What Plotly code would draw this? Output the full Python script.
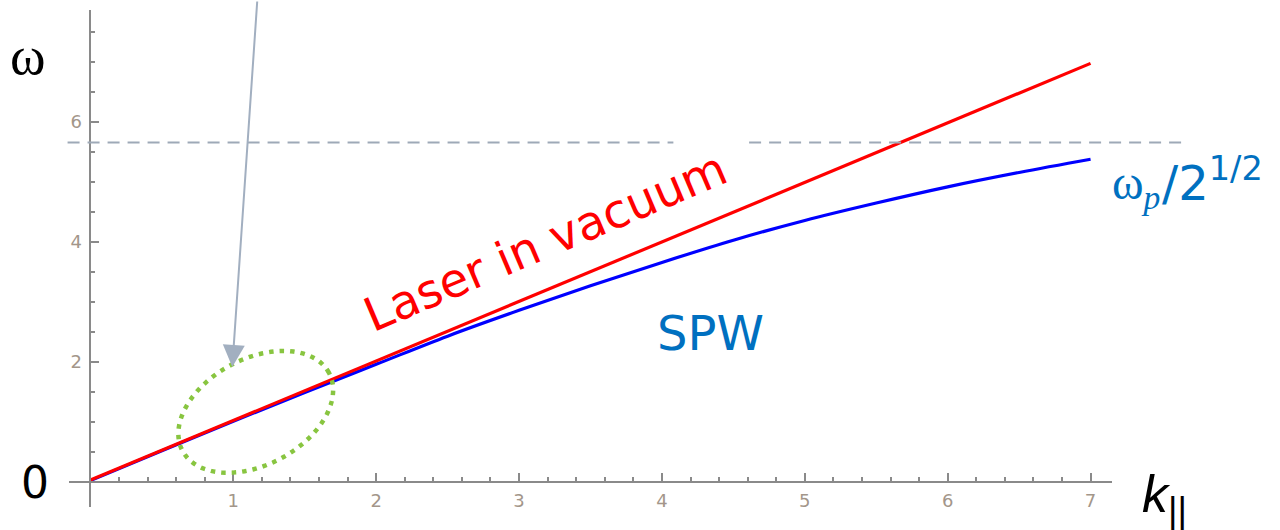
import numpy as np
import plotly.graph_objects as go

# ---- data -------------------------------------------------------------
laser_k = [0.0, 7.0]
laser_w = [0.03, 6.98]

spw_k = [0.0, 0.5, 1.0, 1.5, 2.0, 2.5, 3.0, 3.5, 4.0, 4.5, 5.0, 5.5, 6.0, 6.5, 7.0]
spw_w = [0.02, 0.52, 1.01, 1.49, 1.96, 2.43, 2.86, 3.27, 3.66, 4.03, 4.36, 4.65, 4.92, 5.16, 5.38]

surface_limit = 5.66          # omega_p / sqrt(2)

x_tick_vals = [1, 2, 3, 4, 5, 6, 7]
x_tick_text = ["1", "2", "3", "4", "5", "6", "7"]
y_tick_vals = [2, 4, 6]
y_tick_text = ["2", "4", "6"]

# ---- layout geometry --------------------------------------------------
W, H = 1280, 530
M_L, M_R, M_T, M_B = 69, 168, 10, 23
X_RANGE = [-0.15, 7.15]
Y_RANGE = [-0.42, 7.87]
PW, PH = W - M_L - M_R, H - M_T - M_B
SX = PW / (X_RANGE[1] - X_RANGE[0])   # px per k unit
SY = PH / (Y_RANGE[1] - Y_RANGE[0])   # px per omega unit


def px_x(px):
    return (px - M_L) / PW


def px_y(py):
    return (H - M_B - py) / PH


def dx_paper(v):
    return (v - X_RANGE[0]) / (X_RANGE[1] - X_RANGE[0])


def dy_paper(v):
    return (v - Y_RANGE[0]) / (Y_RANGE[1] - Y_RANGE[0])


AXIS = "#8a8a8a"
BLUE_TXT = "#0070c0"
TICKFONT = dict(family="DejaVu Sans", size=18, color="#a3968a")
SERIF = "Liberation Serif, DejaVu Serif, serif"

fig = go.Figure()
fig.add_trace(go.Scatter(x=spw_k, y=spw_w, mode="lines", line_shape="spline",
                         line=dict(color="#0000ff", width=3.2), hoverinfo="skip"))
fig.add_trace(go.Scatter(x=laser_k, y=laser_w, mode="lines",
                         line=dict(color="#ff0000", width=3.2), hoverinfo="skip"))

# dashed asymptote omega_p/sqrt(2), broken where the label crosses it
for x0, x1 in [(-0.16, 4.08), (4.61, 7.66)]:
    fig.add_shape(type="line", xref="paper", yref="paper",
                  x0=dx_paper(x0), x1=dx_paper(x1),
                  y0=dy_paper(surface_limit), y1=dy_paper(surface_limit),
                  line=dict(color="#9ea9b7", width=2, dash="12px,8px"))

# dotted ellipse marking the region where both curves coincide
cx, cy = 1.157, 1.167
a_px, b_px, tilt = 83.0, 53.0, np.deg2rad(28)
t = np.linspace(0, 2 * np.pi, 121)
ex = cx + (a_px * np.cos(t) * np.cos(tilt) - b_px * np.sin(t) * np.sin(tilt)) / SX
ey = cy + (a_px * np.cos(t) * np.sin(tilt) + b_px * np.sin(t) * np.cos(tilt)) / SY
path = "M " + " L ".join(f"{x:.4f},{y:.4f}" for x, y in zip(ex, ey)) + " Z"
fig.add_shape(type="path", path=path, xref="x", yref="y",
              line=dict(color="#88c540", width=4.5, dash="4.5px,6px"))

ann = []
# arrow pointing into the ellipse
ann.append(dict(x=0.993, y=1.917, xref="x", yref="y", text="", showarrow=True,
                ax=25, ay=-378, arrowcolor="#a2afc0", arrowwidth=2,
                arrowhead=2, arrowsize=2.2, standoff=0))
ann.append(dict(x=px_x(28), y=px_y(56), xref="paper", yref="paper", text="ω",
                xanchor="center", yanchor="middle",
                showarrow=False, font=dict(family=SERIF, size=54, color="black")))
ann.append(dict(x=px_x(35), y=px_y(482), xref="paper", yref="paper", text="0",
                xanchor="center", yanchor="middle",
                showarrow=False, font=dict(family="DejaVu Sans", size=44, color="black")))
ann.append(dict(x=px_x(1140), y=px_y(498), xref="paper", yref="paper",
                xanchor="left", yanchor="middle",
                text="<i>k</i><sub>||</sub>", showarrow=False,
                font=dict(family="Liberation Sans", size=52, color="black")))
# omega_p / 2^(1/2) label: serif omega with italic subscript p, then /2^(1/2)
ann.append(dict(x=px_x(1161), y=px_y(186), xref="paper", yref="paper",
                xanchor="right", yanchor="middle", text="ω<sub><i>p</i></sub>",
                showarrow=False, borderpad=0,
                font=dict(family=SERIF, size=48, color=BLUE_TXT)))
ann.append(dict(x=px_x(1161), y=px_y(180), xref="paper", yref="paper",
                xanchor="left", yanchor="middle", borderpad=0,
                text="/2<sup>1/2</sup>", showarrow=False,
                font=dict(family="DejaVu Sans", size=48, color=BLUE_TXT)))
ann.append(dict(x=px_x(710), y=px_y(333), xref="paper", yref="paper", text="SPW",
                xanchor="center", yanchor="middle",
                showarrow=False, font=dict(family="DejaVu Sans", size=48, color=BLUE_TXT)))
ann.append(dict(x=px_x(545), y=px_y(241), xref="paper", yref="paper",
                xanchor="center", yanchor="middle",
                text="Laser in vacuum", textangle=-23, showarrow=False,
                font=dict(family="DejaVu Sans", size=47, color="#ff0000")))

fig.update_layout(
    width=W, height=H,
    margin=dict(l=M_L, r=M_R, t=M_T, b=M_B, pad=0),
    paper_bgcolor="white", plot_bgcolor="white",
    showlegend=False,
    annotations=ann,
    xaxis=dict(range=X_RANGE, showgrid=False, zeroline=False,
               showline=True, linecolor=AXIS, linewidth=2,
               anchor="free", position=dy_paper(0),
               ticks="inside", ticklen=8, tickwidth=2, tickcolor=AXIS,
               tickvals=x_tick_vals, ticktext=x_tick_text, tickfont=TICKFONT,
               ticklabelstandoff=3,
               minor=dict(tick0=0, dtick=0.2, ticks="inside", ticklen=4,
                          tickwidth=2, tickcolor=AXIS, showgrid=False)),
    yaxis=dict(range=Y_RANGE, showgrid=False, zeroline=False,
               showline=True, linecolor=AXIS, linewidth=2,
               anchor="free", position=dx_paper(0),
               ticks="inside", ticklen=8, tickwidth=2, tickcolor=AXIS,
               tickvals=y_tick_vals, ticktext=y_tick_text, tickfont=TICKFONT,
               ticklabelstandoff=4,
               minor=dict(tick0=0, dtick=0.5, ticks="inside", ticklen=4,
                          tickwidth=2, tickcolor=AXIS, showgrid=False)),
)

fig.write_html("out.html")
